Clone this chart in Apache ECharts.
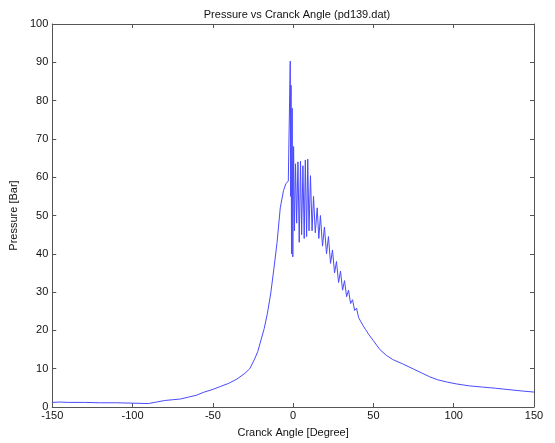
<!DOCTYPE html>
<html>
<head>
<meta charset="utf-8">
<script src="https://cdn.jsdelivr.net/npm/echarts@6/dist/echarts.min.js"></script>
<style>html,body{margin:0;padding:0;background:#fff;}#c{width:555px;height:443px;}</style>
</head>
<body>
<div id="c"></div>
<script>
const titleText = 'Pressure vs Cranck Angle (pd139.dat)';
const xName = 'Cranck Angle [Degree]';
const yName = 'Pressure [Bar]';
const xTicks = [-150, -100, -50, 0, 50, 100, 150];
const yTicks = [0, 10, 20, 30, 40, 50, 60, 70, 80, 90, 100];

const angles = [
  -150, -145, -140, -130, -120, -110, -100, -90, -85, -80, -75, -70, -65, -60, -56, -50, -45, -40, -35, -30,
  -27, -24, -22, -20, -18, -16, -14, -12, -10, -8, -6, -4.5, -3, -2.0,
  -1.8, -1.5, -1.3, -1.0, -0.6, -0.2, 0.3, 0.8, 1.5, 2.2, 3.0, 3.8, 4.6, 5.3, 6.1, 6.9, 7.6, 8.4, 9.1, 9.9,
  10.8, 11.8, 12.7, 13.8, 15.0, 16.0, 17.0, 18.3, 19.5, 20.8, 22.0, 23.3, 24.5, 25.8, 27.0, 28.3, 29.5,
  30.8, 32.0, 33.3, 34.5, 35.8, 37.0, 38.3, 39.5, 40.8, 42.0, 43.5, 45, 47, 50, 54, 58, 62, 68, 75, 80,
  85, 90, 96, 102, 110, 118, 126, 135, 142, 150
];
const pressures = [
  1.2, 1.3, 1.2, 1.2, 1.1, 1.1, 1.0, 0.9, 1.3, 1.7, 1.9, 2.1, 2.6, 3.1, 3.8, 4.6, 5.4, 6.2, 7.3, 8.8,
  10.0, 12.5, 14.5, 17.5, 20.5, 24.5, 29.5, 36, 43, 52, 56.5, 58.3, 59, 59.5,
  90.3, 55, 84, 40, 78, 39.2, 68, 46, 63.5, 48, 64, 43, 64.2, 45, 63, 44, 64.5, 44.5, 64.7, 46,
  60.4, 46, 55, 45.5, 52, 44, 50, 42, 47, 40, 44.5, 37.5, 41, 35, 38, 32.5, 35.5,
  30.5, 33, 28.8, 30.5, 27, 28, 25.2, 25.8, 23.3, 23.5, 21.3, 20.3, 19, 17.3, 15, 13.5, 12.4, 11.3, 9.9, 8.9,
  7.9, 7.1, 6.5, 6.0, 5.5, 5.2, 4.9, 4.5, 4.2, 3.9
];

const data = angles.map((a, i) => [a, pressures[i]]);
const font = 'Liberation Sans, Arial, sans-serif';
const axisLine = { show: true, onZero: false, lineStyle: { color: '#555', width: 1 } };
const tick = { show: true, inside: true, length: 4, lineStyle: { color: '#555' } };

const chart = echarts.init(document.getElementById('c'), null, { renderer: 'canvas' });
chart.setOption({
  animation: false,
  backgroundColor: '#fff',
  title: {
    text: titleText, left: 292, top: 4, textAlign: 'center',
    textStyle: { fontFamily: font, fontSize: 11, fontWeight: 'normal', color: '#111' }
  },
  grid: { left: 50, right: 21, top: 24, bottom: 36 },
  xAxis: [{
    type: 'value', min: -150, max: 150, interval: 50, position: 'bottom',
    name: xName, nameLocation: 'middle', nameGap: 20,
    nameTextStyle: { fontFamily: font, fontSize: 11, color: '#111' },
    axisLine, axisTick: tick, splitLine: { show: false },
    axisLabel: { fontFamily: font, fontSize: 11, color: '#111', margin: 3,
      formatter: v => xTicks.includes(v) ? String(v) : '' }
  }, {
    type: 'value', min: -150, max: 150, interval: 50, position: 'top',
    axisLine, axisTick: tick, splitLine: { show: false }, axisLabel: { show: false }
  }],
  yAxis: [{
    type: 'value', min: 0, max: 100, interval: 10, position: 'left',
    name: yName, nameLocation: 'middle', nameGap: 17, nameRotate: 90,
    nameTextStyle: { fontFamily: font, fontSize: 11, color: '#111' },
    axisLine, axisTick: tick, splitLine: { show: false },
    axisLabel: { fontFamily: font, fontSize: 11, color: '#111', margin: 4,
      formatter: v => yTicks.includes(v) ? String(v) : '' }
  }, {
    type: 'value', min: 0, max: 100, interval: 10, position: 'right',
    axisLine, axisTick: tick, splitLine: { show: false }, axisLabel: { show: false }
  }],
  series: [{
    type: 'line', data: data, showSymbol: false, symbol: 'none',
    lineStyle: { color: '#4a4aff', width: 1 }, xAxisIndex: 0, yAxisIndex: 0
  }]
});
</script>
</body>
</html>
